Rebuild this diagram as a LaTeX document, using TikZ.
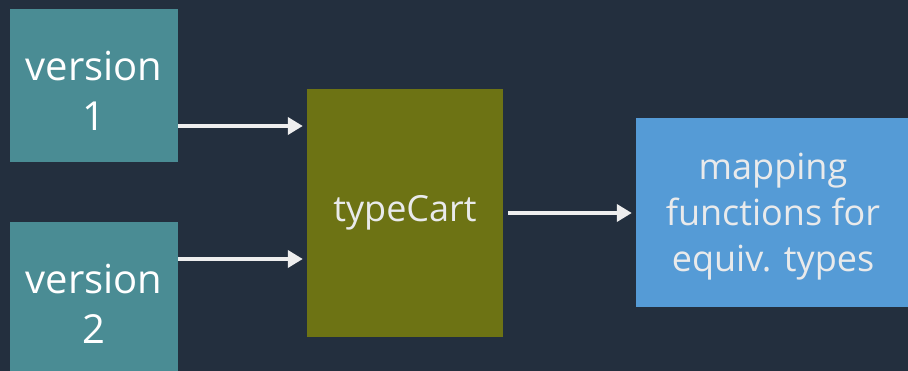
\documentclass[tikz,border=0pt]{standalone}
\usepackage{fontspec}
\setmainfont{Open Sans}
\usetikzlibrary{arrows.meta,calc}

\definecolor{bgnavy}{HTML}{232F3E}
\definecolor{tealbox}{HTML}{4A8C94}
\definecolor{olivebox}{HTML}{6D7314}
\definecolor{bluebox}{HTML}{559BD6}
\definecolor{paletext}{HTML}{E9EAEB}
\definecolor{arrowgrey}{HTML}{EEEEEE}

\begin{document}
\begin{tikzpicture}[x=1pt,y=-1pt,
  box/.style={rectangle, inner sep=0pt, align=center},
  verbox/.style={box, fill=tealbox, minimum width=168pt, minimum height=153pt},
  vertext/.style={align=center, text=white, yshift=-5pt,
    font=\fontsize{40pt}{50pt}\selectfont},
  cartbox/.style={box, fill=olivebox, text=paletext, minimum width=196pt, minimum height=248pt,
    font=\fontsize{36pt}{44pt}\selectfont},
  mapbox/.style={box, fill=bluebox, minimum width=272pt, minimum height=189pt},
  maptext/.style={align=center, text=paletext, yshift=-4pt, xshift=1pt,
    font=\fontsize{36pt}{46pt}\selectfont},
  arr/.style={draw=arrowgrey, line width=4pt, -{Triangle[length=15pt,width=17pt]}}
]
  % canvas
  \fill[bgnavy] (0,0) rectangle (908,371);
  \useasboundingbox (0,0) rectangle (908,371);
  \begin{scope}
    \clip (0,0) rectangle (908,371);
    \node[verbox, label={[vertext]center:{version\\1}}] (v1) at (94,85.5) {};
    \node[verbox, label={[vertext]center:{version\\2}}] (v2) at (94,298.5) {};
    \node[cartbox] (tc) at (405,213) {typeCart};
    \node[mapbox, label={[maptext]center:{mapping\\functions for\\equiv. types}}] (map) at (772,212.5) {};
  \end{scope}

  % connectors
  \coordinate (a1) at ([yshift=-40.5pt]v1.east);
  \coordinate (a2) at ([yshift=39.5pt]v2.east);
  \draw[arr, shorten >=4pt] (a1) -- (a1 -| tc.west);
  \draw[arr, shorten >=4pt] (a2) -- (a2 -| tc.west);
  \draw[arr, shorten <=5pt, shorten >=4pt] (tc.east) -- (tc.east -| map.west);
\end{tikzpicture}
\end{document}
